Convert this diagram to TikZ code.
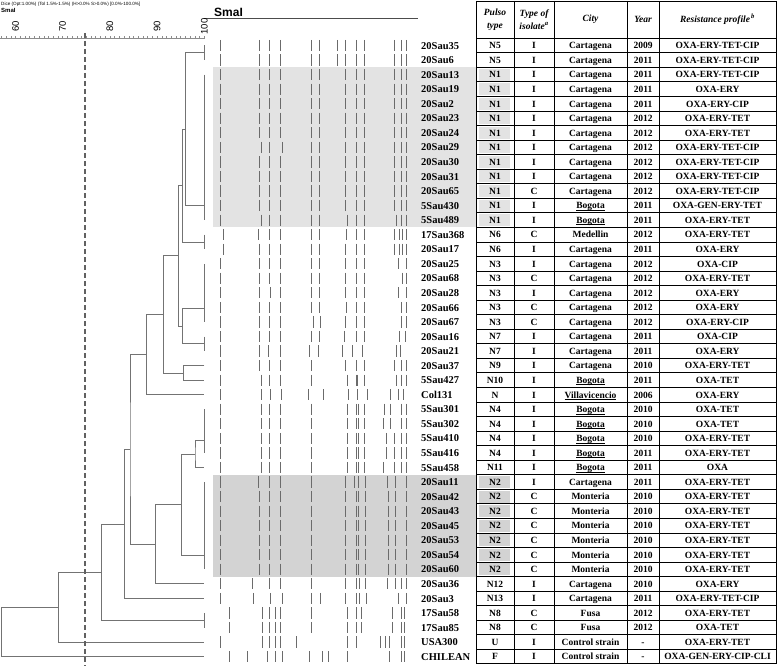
\documentclass[tikz,border=0pt]{standalone}
\usepackage{xcolor}
\usepackage{amsmath}
\usepackage{tikz}
\usepackage{fontspec}
\setmainfont{Liberation Serif}
\setsansfont{Liberation Sans}

\definecolor{nonegray}{HTML}{E3E3E3}
\definecolor{ntwogray}{HTML}{D3D3D3}

% underlined city names
\newcommand{\ulcity}[1]{\setbox0\hbox{#1}\rlap{\rule[-1.7pt]{\wd0}{0.75pt}}\box0}

\tikzset{
    dendro/.style={draw=black!55, line width=0.8pt},
    band/.style={draw=black!58, line width=0.95pt},
    cutline/.style={draw=black!62, line width=1.4pt, dash pattern=on 5pt off 3pt},
    cell/.style={draw=black, line width=0.8pt},
    scaletick/.style={draw=black!45, line width=0.5pt},
    scalelbl/.style={rotate=90, inner sep=0pt, font=\sffamily\fontsize{9.5}{10}\selectfont},
    lbl/.style={anchor=base west, inner sep=0pt, font=\fontsize{10.5}{12}\selectfont\bfseries},
    entry/.style={anchor=base, inner sep=0pt, font=\fontsize{9.5}{11}\selectfont\bfseries},
    head/.style={align=center, inner sep=0pt, font=\fontsize{9.5}{12.5}\selectfont\bfseries\itshape}
}

\begin{document}
\begin{tikzpicture}[x=1pt, y=-1pt]
    \useasboundingbox (0,0) rectangle (778,666);

    % shaded pulsotypes N1 and N2
    \fill[nonegray] (213,67.3) rectangle (476.5,227.35);
    \fill[ntwogray] (213,474.7) rectangle (476.5,576.55);
    \foreach \k in {2,...,12}
        \fill[nonegray] (478.5,{38.2+14.55*\k+1.3}) rectangle (510,{38.2+14.55*(\k+1)-1.3});
    \foreach \k in {30,...,36}
        \fill[ntwogray] (478.5,{38.2+14.55*\k+1.3}) rectangle (510,{38.2+14.55*(\k+1)-1.3});

    % header of the dendrogram
    \node[anchor=north west, inner sep=0pt, font=\sffamily\fontsize{4.6}{5}\selectfont] (dice) at (1,1.5)
        {Dice (Opt:1.00\%) (Tol 1.5\%-1.5\%) (H>0.0\% S>0.0\%) [0.0\%-100.0\%]};
    \node[anchor=north west, inner sep=0pt, font=\sffamily\bfseries\fontsize{6}{7}\selectfont] (enz) at (1,8) {SmaI};
    \node[anchor=base west, inner sep=0pt, font=\sffamily\bfseries\fontsize{12}{12}\selectfont] (gelenz) at (214,16.5) {SmaI};
    \coordinate (bar0) at (204.3,18.3);
    \coordinate (bar1) at (418,18.3);
    \draw[black!70, line width=0.9pt] (bar0) -- (bar1);

    % similarity scale
    \coordinate (ax0) at (0,38);
    \coordinate (ax1) at (204.3,38);
    \draw[scaletick] (ax0) -- (ax1);
    \foreach \p in {57,...,100}
        \draw[scaletick] ({204.3-(100-\p)*4.72},36.5) -- ++(0,3);
    \foreach \p in {60,70,80,90,100}
        \node[scalelbl] (s\p) at ({204.3-(100-\p)*4.72},26.5) {\p};

    % gel bands
    \foreach \rows/\bl in {
        {0,1}/{220.3,259.7,269.7,280,311,319.7,337.7,345.3,356,364.7,394.7,401.3,406},
        {2,3,4,5,6,8,9,10,11}/{220.3,259.7,269.7,280,311,319.7,345.3,356,364.7,394.7,401.3,406},
        7/{220.3,261.3,269.7,282,311,319.7,345.3,356,364.7,394.7,401.3,406},
        12/{220.3,261.3,269.7,280,311,319.7,347,356,364.7,396,401.3,406},
        13/{223.7,258.7,269.7,280,311,319.7,346.3,356,364.7,394.7,399.3,402,406},
        14/{223.7,259.7,269.7,280,311,319.7,345.3,356,364.7,394.7,399.3,402,406},
        15/{220.3,259.7,269.7,280,311,319.7,345.3,356,364.7,398.7,406},
        16/{220.3,259.7,269.7,280,311,319.7,345.3,356,364.7,402,406},
        17/{220.3,259.7,270.3,280,311,319.7,345.3,356,364.7,398,406},
        18/{220.3,259.7,269.7,280,311,319.7,346.3,356,364.7,401.3,406},
        19/{220.3,259.7,269.7,280,313,320.3,345.3,356,364.7,401.3,406},
        20/{220.3,259.7,269.7,280,311,319.7,344.7,356,364.7,399.3,405.3},
        21/{220.3,259.7,268,280,309.3,318,342.7,352.7,362,396,400.3},
        22/{220.3,259.7,269.7,280,311,345.3,356,364.7,394.7,401.3,406},
        23/{220.3,261.3,269.7,280,311,347,356,357.7,364.7,396,401.3,406},
        24/{220.3,261.3,270.3,281.3,308,323,348.7,357.7,367,390.3,398,403.7},
        25/{220.3,261.3,269.7,280,311,347,356,358,364.7,384.7,390.3,401.3,406},
        26/{220.3,261.3,269.7,280,311,347,356,358,364.7,383.7,390.3,401.3,406},
        {27,28}/{220.3,261.3,269.7,280,311,347,356,358,364.7,386,394.7,401.3,406},
        29/{220.3,261.3,269.7,280,311,347,356,358.7,364.7,383.7,394.7,401.3,406},
        30/{220.3,258,269.7,280,311,345.3,354.7,358.7,365.3,387,395.3,406},
        {31,32,33,34,35,36}/{220.3,259.7,269.7,280,311,345.3,356,358.7,365.3,388,395.3,406},
        37/{220.3,252,269.7,280,311,345.3,356,359.3,365.3,387,395.3,401.3,406},
        38/{220.3,253.7,270.3,282,311,320.3,345.3,356,359.3,366,398.7,406},
        {39,40}/{229.3,262,269.7,275.3,280,311,347,356,361,392,401.3,404.7},
        41/{220.3,262,269.7,275.3,280,296,347,356,380.3,385.3,389.3,401.3,404.7},
        42/{229.3,247,267,275.3,282,309.3,322.7,328.7,347,389.3,401.3,404.7}}
        \foreach \k in \rows
            \foreach \b in \bl
                \draw[band] (\b,{45.5+14.55*\k-5.6}) -- (\b,{45.5+14.55*\k+5.6});

    % dendrogram: leaves
    \foreach \k in {0,...,42}
        \coordinate (l\k) at (204.3,{45.5+14.55*\k});
    % identical profiles (100 %)
    \foreach \a/\b in {0/1, 2/12, 13/14, 15/19, 20/21, 25/28, 30/36, 39/40}
        \draw[dendro] (l\a) -- (l\b);
    \coordinate (cA) at (204.3,52.8);
    \coordinate (cB) at (204.3,205.55);
    \coordinate (cC) at (204.3,241.9);
    \coordinate (cD) at (204.3,308.3);
    \coordinate (cE) at (204.3,343.8);
    \coordinate (cF) at (204.3,440.2);
    \coordinate (cG) at (204.3,555.0);
    \coordinate (cH) at (204.3,620.3);
    % joins
    \foreach \n/\x/\y/\a/\b in {
        n1/185.3/129.2/cA/cB, n2/182.7/185.5/n1/cC, n3/182.7/326.1/cD/cE,
        n4/178.7/255.8/n2/n3, n5/183.3/372.9/l22/l23, n6/163.7/314.4/n4/n5,
        n7/146.7/354.5/n6/l24, n8/195/453.9/cF/l29, n9/181.7/504.4/n8/cG,
        n10/155.7/544.2/n9/l37, n11/130/449.4/n7/n10, n12/124.3/523.9/n11/l38,
        n13/101.7/572.1/n12/cH, n14/58.3/607.1/n13/l41, root/1.7/631.8/n14/l42}
    {
        \coordinate (\n) at (\x,\y);
        \draw[dendro] (\a) -| (\n) |- (\b);
    }

    % cut-off line
    \coordinate (cut0) at (85,33);
    \coordinate (cut1) at (85,666);
    \draw[cutline] (cut0) -- (cut1);

    % table
    \foreach \cx in {476.5,514,554,627,659,776}
        \draw[cell] (\cx,1) -- (\cx,663.85);
    \draw[cell] (476.5,1) -- (776,1);
    \foreach \k in {0,...,43}
        \draw[cell] (476.5,{38.2+14.55*\k}) -- (776,{38.2+14.55*\k});

    \node[head] (hpulso) at (495,19.6) {Pulso\\type};
    \node[head] (htype) at (534,19.6) {Type of\\isolate\textsuperscript{a}};
    \node[head] (hcity) at (590.5,19.6) {City};
    \node[head] (hyear) at (643,19.6) {Year};
    \node[head] (hres) at (717.5,19.6) {Resistance profile\textsuperscript{\,b}};

    \foreach \k/\rname/\rpulso/\rtype/\rcity/\ryear/\rprof in {
        0/20Sau35/N5/I/Cartagena/2009/OXA-ERY-TET-CIP,
        1/20Sau6/N5/I/Cartagena/2011/OXA-ERY-TET-CIP,
        2/20Sau13/N1/I/Cartagena/2011/OXA-ERY-TET-CIP,
        3/20Sau19/N1/I/Cartagena/2011/OXA-ERY,
        4/20Sau2/N1/I/Cartagena/2011/OXA-ERY-CIP,
        5/20Sau23/N1/I/Cartagena/2012/OXA-ERY-TET,
        6/20Sau24/N1/I/Cartagena/2012/OXA-ERY-TET,
        7/20Sau29/N1/I/Cartagena/2012/OXA-ERY-TET-CIP,
        8/20Sau30/N1/I/Cartagena/2012/OXA-ERY-TET-CIP,
        9/20Sau31/N1/I/Cartagena/2012/OXA-ERY-TET-CIP,
        10/20Sau65/N1/C/Cartagena/2012/OXA-ERY-TET-CIP,
        11/5Sau430/N1/I/\ulcity{Bogota}/2011/OXA-GEN-ERY-TET,
        12/5Sau489/N1/I/\ulcity{Bogota}/2011/OXA-ERY-TET,
        13/17Sau368/N6/C/Medellin/2012/OXA-ERY-TET,
        14/20Sau17/N6/I/Cartagena/2011/OXA-ERY,
        15/20Sau25/N3/I/Cartagena/2012/OXA-CIP,
        16/20Sau68/N3/C/Cartagena/2012/OXA-ERY-TET,
        17/20Sau28/N3/I/Cartagena/2012/OXA-ERY,
        18/20Sau66/N3/C/Cartagena/2012/OXA-ERY,
        19/20Sau67/N3/C/Cartagena/2012/OXA-ERY-CIP,
        20/20Sau16/N7/I/Cartagena/2011/OXA-CIP,
        21/20Sau21/N7/I/Cartagena/2011/OXA-ERY,
        22/20Sau37/N9/I/Cartagena/2010/OXA-ERY-TET,
        23/5Sau427/N10/I/\ulcity{Bogota}/2011/OXA-TET,
        24/Col131/N/I/\ulcity{Villavicencio}/2006/OXA-ERY,
        25/5Sau301/N4/I/\ulcity{Bogota}/2010/OXA-TET,
        26/5Sau302/N4/I/\ulcity{Bogota}/2010/OXA-TET,
        27/5Sau410/N4/I/\ulcity{Bogota}/2010/OXA-ERY-TET,
        28/5Sau416/N4/I/\ulcity{Bogota}/2011/OXA-ERY-TET,
        29/5Sau458/N11/I/\ulcity{Bogota}/2011/OXA,
        30/20Sau11/N2/I/Cartagena/2011/OXA-ERY-TET,
        31/20Sau42/N2/C/Monteria/2010/OXA-ERY-TET,
        32/20Sau43/N2/C/Monteria/2010/OXA-ERY-TET,
        33/20Sau45/N2/C/Monteria/2010/OXA-ERY-TET,
        34/20Sau53/N2/C/Monteria/2010/OXA-ERY-TET,
        35/20Sau54/N2/C/Monteria/2010/OXA-ERY-TET,
        36/20Sau60/N2/C/Monteria/2010/OXA-ERY-TET,
        37/20Sau36/N12/I/Cartagena/2010/OXA-ERY,
        38/20Sau3/N13/I/Cartagena/2011/OXA-ERY-TET-CIP,
        39/17Sau58/N8/C/Fusa/2012/OXA-ERY-TET,
        40/17Sau85/N8/C/Fusa/2012/OXA-TET,
        41/USA300/U/I/Control strain/-/OXA-ERY-TET,
        42/CHILEAN/F/I/Control strain/-/OXA-GEN-ERY-CIP-CLI}
    {
        \pgfmathsetmacro\yb{45.5+14.55*\k+3.3}
        \node[lbl] (name\k) at (421,\yb+0.3) {\rname};
        \node[entry] (pulso\k) at (495,\yb) {\rpulso};
        \node[entry] (type\k) at (534,\yb) {\rtype};
        \node[entry] (city\k) at (590.5,\yb) {\rcity};
        \node[entry] (year\k) at (643,\yb) {\ryear};
        \node[entry] (prof\k) at (717.5,\yb) {\rprof};
    }
\end{tikzpicture}
\end{document}
